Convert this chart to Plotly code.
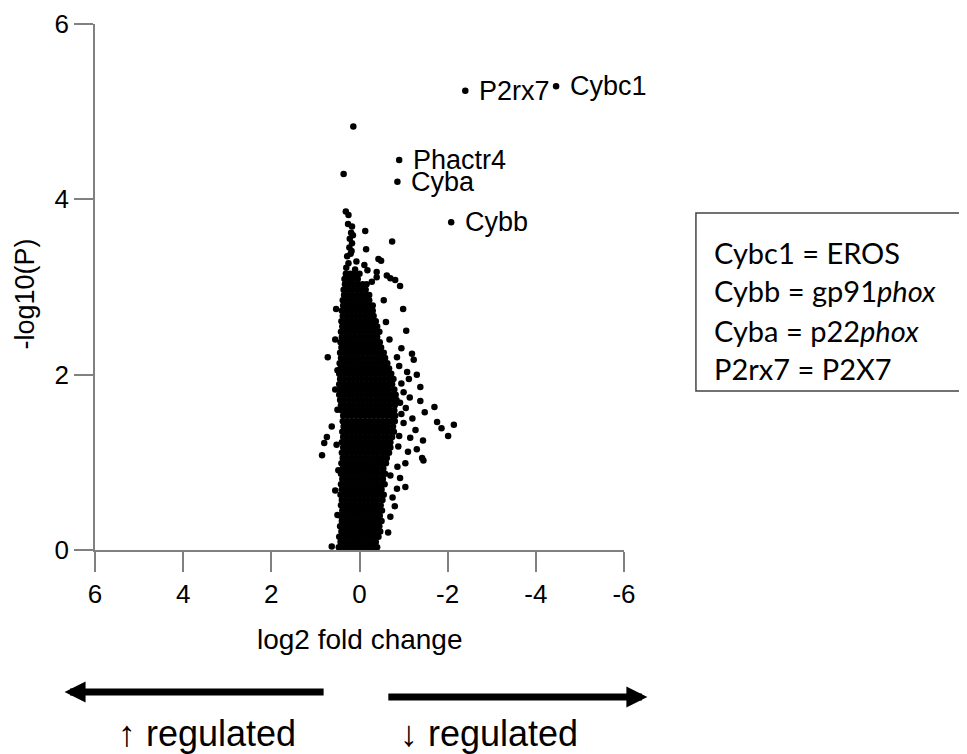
import plotly.graph_objects as go

# ---- dense core of the volcano cloud, read row by row: (-log10 P, [log2 FC values]) ----
core_rows = [
    (0.03, [0.47, 0.37, 0.27, 0.17, 0.07, -0.03, -0.13, -0.23, -0.33, -0.40]),
    (0.09, [0.43, 0.33, 0.23, 0.13, 0.03, -0.07, -0.17, -0.27, -0.37]),
    (0.15, [0.46, 0.36, 0.26, 0.16, 0.06, -0.04, -0.14, -0.24, -0.34, -0.43]),
    (0.21, [0.41, 0.31, 0.21, 0.11, 0.01, -0.09, -0.19, -0.29, -0.39, -0.47]),
    (0.27, [0.44, 0.34, 0.24, 0.14, 0.04, -0.06, -0.16, -0.26, -0.36, -0.45]),
    (0.33, [0.40, 0.30, 0.20, 0.10, 0.00, -0.10, -0.20, -0.30, -0.40, -0.50]),
    (0.39, [0.43, 0.33, 0.23, 0.13, 0.03, -0.07, -0.17, -0.27, -0.37, -0.46]),
    (0.45, [0.39, 0.29, 0.19, 0.09, -0.01, -0.11, -0.21, -0.31, -0.41, -0.51]),
    (0.51, [0.42, 0.32, 0.22, 0.12, 0.02, -0.08, -0.18, -0.28, -0.38, -0.48]),
    (0.57, [0.40, 0.30, 0.20, 0.10, 0.00, -0.10, -0.20, -0.30, -0.40, -0.52]),
    (0.63, [0.43, 0.33, 0.23, 0.13, 0.03, -0.07, -0.17, -0.27, -0.37, -0.47, -0.55]),
    (0.69, [0.40, 0.30, 0.20, 0.10, 0.00, -0.10, -0.20, -0.30, -0.40, -0.50]),
    (0.75, [0.42, 0.32, 0.22, 0.12, 0.02, -0.08, -0.18, -0.28, -0.38, -0.48, -0.57]),
    (0.81, [0.39, 0.29, 0.19, 0.09, -0.01, -0.11, -0.21, -0.31, -0.41, -0.53]),
    (0.87, [0.42, 0.32, 0.22, 0.12, 0.02, -0.08, -0.18, -0.28, -0.38, -0.48, -0.58]),
    (0.93, [0.38, 0.28, 0.18, 0.08, -0.02, -0.12, -0.22, -0.32, -0.42, -0.54]),
    (0.99, [0.41, 0.31, 0.21, 0.11, 0.01, -0.09, -0.19, -0.29, -0.39, -0.49, -0.60]),
    (1.05, [0.38, 0.28, 0.18, 0.08, -0.02, -0.12, -0.22, -0.32, -0.42, -0.52, -0.62]),
    (1.11, [0.40, 0.30, 0.20, 0.10, 0.00, -0.10, -0.20, -0.30, -0.40, -0.50, -0.60, -0.67]),
    (1.17, [0.37, 0.27, 0.17, 0.07, -0.03, -0.13, -0.23, -0.33, -0.43, -0.53, -0.63, -0.70]),
    (1.23, [0.40, 0.30, 0.20, 0.10, 0.00, -0.10, -0.20, -0.30, -0.40, -0.50, -0.60, -0.70]),
    (1.29, [0.37, 0.27, 0.17, 0.07, -0.03, -0.13, -0.23, -0.33, -0.43, -0.53, -0.63, -0.74]),
    (1.35, [0.39, 0.29, 0.19, 0.09, -0.01, -0.11, -0.21, -0.31, -0.41, -0.51, -0.61, -0.71, -0.78]),
    (1.41, [0.36, 0.26, 0.16, 0.06, -0.04, -0.14, -0.24, -0.34, -0.44, -0.54, -0.64, -0.76]),
    (1.47, [0.38, 0.28, 0.18, 0.08, -0.02, -0.12, -0.22, -0.32, -0.42, -0.52, -0.62, -0.72, -0.80]),
    (1.53, [0.37, 0.27, 0.17, 0.07, -0.03, -0.13, -0.23, -0.33, -0.43, -0.53, -0.63, -0.73, -0.81]),
    (1.59, [0.40, 0.30, 0.20, 0.10, 0.00, -0.10, -0.20, -0.30, -0.40, -0.50, -0.60, -0.70, -0.79]),
    (1.65, [0.42, 0.32, 0.22, 0.12, 0.02, -0.08, -0.18, -0.28, -0.38, -0.48, -0.58, -0.68, -0.80]),
    (1.71, [0.44, 0.34, 0.24, 0.14, 0.04, -0.06, -0.16, -0.26, -0.36, -0.46, -0.56, -0.66, -0.76, -0.84]),
    (1.77, [0.46, 0.36, 0.26, 0.16, 0.06, -0.04, -0.14, -0.24, -0.34, -0.44, -0.54, -0.64, -0.74, -0.82]),
    (1.83, [0.43, 0.33, 0.23, 0.13, 0.03, -0.07, -0.17, -0.27, -0.37, -0.47, -0.57, -0.67, -0.79]),
    (1.89, [0.46, 0.36, 0.26, 0.16, 0.06, -0.04, -0.14, -0.24, -0.34, -0.44, -0.54, -0.64, -0.74]),
    (1.95, [0.44, 0.34, 0.24, 0.14, 0.04, -0.06, -0.16, -0.26, -0.36, -0.46, -0.56, -0.66, -0.77]),
    (2.01, [0.46, 0.36, 0.26, 0.16, 0.06, -0.04, -0.14, -0.24, -0.34, -0.44, -0.54, -0.64, -0.72]),
    (2.07, [0.43, 0.33, 0.23, 0.13, 0.03, -0.07, -0.17, -0.27, -0.37, -0.47, -0.57, -0.67]),
    (2.13, [0.45, 0.35, 0.25, 0.15, 0.05, -0.05, -0.15, -0.25, -0.35, -0.45, -0.55, -0.63]),
    (2.19, [0.42, 0.32, 0.22, 0.12, 0.02, -0.08, -0.18, -0.28, -0.38, -0.48, -0.58]),
    (2.25, [0.44, 0.34, 0.24, 0.14, 0.04, -0.06, -0.16, -0.26, -0.36, -0.46, -0.55]),
    (2.31, [0.41, 0.31, 0.21, 0.11, 0.01, -0.09, -0.19, -0.29, -0.39, -0.49]),
    (2.37, [0.43, 0.33, 0.23, 0.13, 0.03, -0.07, -0.17, -0.27, -0.37, -0.46]),
    (2.43, [0.40, 0.30, 0.20, 0.10, 0.00, -0.10, -0.20, -0.30, -0.40]),
    (2.49, [0.42, 0.32, 0.22, 0.12, 0.02, -0.08, -0.18, -0.28, -0.38, -0.45]),
    (2.55, [0.39, 0.29, 0.19, 0.09, -0.01, -0.11, -0.21, -0.31, -0.40]),
    (2.61, [0.41, 0.31, 0.21, 0.11, 0.01, -0.09, -0.19, -0.29, -0.37]),
    (2.67, [0.38, 0.28, 0.18, 0.08, -0.02, -0.12, -0.22, -0.32]),
    (2.73, [0.40, 0.30, 0.20, 0.10, 0.00, -0.10, -0.20, -0.30]),
    (2.79, [0.37, 0.27, 0.17, 0.07, -0.03, -0.13, -0.23, -0.30]),
    (2.85, [0.38, 0.28, 0.18, 0.08, -0.02, -0.12, -0.22]),
    (2.91, [0.35, 0.25, 0.15, 0.05, -0.05, -0.15, -0.22]),
    (2.97, [0.36, 0.26, 0.16, 0.06, -0.04, -0.14]),
    (3.03, [0.33, 0.23, 0.13, 0.03, -0.07, -0.16]),
    (3.09, [0.34, 0.24, 0.14, 0.04]),
    (3.15, [0.31, 0.21, 0.11]),
]

# ---- scattered genes outside the dense core ----
scatter_fc = [
    0.31, 0.25, 0.26, 0.17, -0.13, -0.74, 0.15, 0.17, -0.15, 0.18, 0.20, -0.43, -0.49,
    0.25, 0.07, -0.11, -0.18, -0.39, -0.62, -0.70, -0.81, -0.92, 0.29, 0.21, -0.28, -0.39,
    0.28, 0.22, 0.10, 0.30, 0.00, 0.23, 0.19,
    -1.70, -2.14, -2.01, -1.76, -1.86, -1.48, -1.38, -1.14, -1.27, -1.44, -1.42, -1.45,
    -1.10, -1.04, -0.92, -1.04, -0.70, -0.99, -1.06, -0.85, -1.19, -1.23, -1.08, -1.30,
    -1.38, -0.95, -1.00, -0.90, -1.20, -1.05, -0.88, -0.95, -0.90, -0.86, -0.75, -0.80,
    -0.65, -0.70, -1.15, -1.30, -0.85, -0.92, -1.00, -0.60, -0.55, -0.68, -0.95, -1.12,
    0.55, 0.63, 0.74, 0.80, 0.85, 0.48, 0.55, 0.63, 0.72, 0.53, 0.50, 0.52, 0.50, 0.55, 0.50,
    0.14, 0.36,
]
scatter_p = [
    3.86, 3.82, 3.72, 3.69, 3.64, 3.52, 3.59, 3.50, 3.43, 3.41, 3.38, 3.32, 3.30,
    3.27, 3.29, 3.25, 3.19, 3.17, 3.13, 3.10, 3.08, 3.01, 3.12, 3.08, 3.06, 3.11,
    3.35, 3.55, 3.20, 3.22, 3.15, 3.45, 3.62,
    1.63, 1.43, 1.30, 1.46, 1.39, 1.57, 1.70, 1.74, 1.37, 1.25, 1.05, 1.02,
    1.12, 0.99, 0.82, 0.72, 0.38, 2.75, 2.50, 2.20, 2.24, 2.17, 2.03, 2.00,
    1.86, 1.55, 1.45, 1.30, 1.50, 1.62, 1.18, 1.90, 2.10, 0.95, 0.60, 0.50,
    0.20, 0.85, 1.28, 1.15, 0.70, 1.68, 1.80, 2.60, 2.85, 2.40, 2.30, 1.95,
    1.83, 1.41, 1.29, 1.22, 1.08, 0.91, 0.68, 0.04, 2.20, 2.75, 1.60, 1.20, 0.40, 2.40, 2.05,
    4.83, 4.29,
]

# ---- labelled genes ----
gene_names = ["P2rx7", "Cybc1", "Phactr4", "Cyba", "Cybb"]
gene_fc = [-2.40, -4.46, -0.90, -0.86, -2.08]
gene_p = [5.24, 5.29, 4.45, 4.20, 3.74]

legend_lines = ["Cybc1 = EROS", "Cybb = gp91<i>phox</i>", "Cyba = p22<i>phox</i>", "P2rx7 = P2X7"]

x_ticks = [6, 4, 2, 0, -2, -4, -6]
x_tick_text = ["6", "4", "2", "0", "-2", "-4", "-6"]
y_ticks = [0, 2, 4, 6]

xs, ys = [], []
for p, fcs in core_rows:
    for fc in fcs:
        xs.append(fc)
        ys.append(p)
xs += scatter_fc + gene_fc
ys += scatter_p + gene_p

FONT = "Liberation Sans, Arial, sans-serif"
AX = "#808080"

fig = go.Figure()
fig.add_trace(go.Scatter(
    x=xs, y=ys, mode="markers",
    marker=dict(color="black", size=6.5, line=dict(width=0)),
    cliponaxis=False, showlegend=False, hoverinfo="skip",
))

annotations = []
for name, fc, p in zip(gene_names, gene_fc, gene_p):
    annotations.append(dict(x=fc, y=p, xref="x", yref="y", text=name, showarrow=False,
                            xanchor="left", yanchor="middle", xshift=12,
                            font=dict(family=FONT, size=27, color="black")))

# axis titles
annotations.append(dict(x=0.5, y=-0.171, xref="paper", yref="paper", text="log2 fold change",
                        showarrow=False, xanchor="center", yanchor="middle",
                        font=dict(family=FONT, size=28, color="black")))
annotations.append(dict(x=-0.132, y=0.486, xref="paper", yref="paper", text="-log10(P)",
                        textangle=-90, showarrow=False, xanchor="center", yanchor="middle",
                        font=dict(family=FONT, size=27, color="black")))

# regulation arrows
annotations.append(dict(x=6.69, y=-0.270, xref="x", yref="y domain",
                        ax=0.78, ay=-0.270, axref="x", ayref="y domain",
                        text="", showarrow=True, arrowhead=2, arrowsize=0.6,
                        arrowwidth=7, arrowcolor="black"))
annotations.append(dict(x=-6.53, y=-0.2795, xref="x", yref="y domain",
                        ax=-0.62, ay=-0.2795, axref="x", ayref="y domain",
                        text="", showarrow=True, arrowhead=2, arrowsize=0.6,
                        arrowwidth=7, arrowcolor="black"))
annotations.append(dict(x=3.47, y=-0.348, xref="x", yref="paper", text="↑ regulated",
                        showarrow=False, xanchor="center", yanchor="middle",
                        font=dict(family=FONT, size=36, color="black")))
annotations.append(dict(x=-2.93, y=-0.348, xref="x", yref="paper", text="↓ regulated",
                        showarrow=False, xanchor="center", yanchor="middle",
                        font=dict(family=FONT, size=36, color="black")))

# legend box text
for line, yy in zip(legend_lines, [0.5647, 0.4924, 0.4182, 0.3460]):
    annotations.append(dict(x=1.1664, y=yy, xref="paper", yref="paper", text=line,
                            showarrow=False, xanchor="left", yanchor="middle",
                            font=dict(family="Lato, Carlito, sans-serif", size=29, color="black")))

# the page body adds an 8 px offset, so the figure margins are reduced by 8 px
fig.update_layout(
    width=967, height=754,
    margin=dict(l=87, r=351, t=16, b=212, autoexpand=False),
    plot_bgcolor="white", paper_bgcolor="white",
    showlegend=False,
    annotations=annotations,
    shapes=[dict(type="rect", xref="paper", yref="paper",
                 x0=1.136, x1=1.6465, y0=0.3023, y1=0.6407,
                 line=dict(color="#444444", width=1.5), fillcolor="rgba(0,0,0,0)")],
)
fig.update_xaxes(range=[6, -6], tickvals=x_ticks, ticktext=x_tick_text, automargin=False,
                 showgrid=False, zeroline=False, showline=True, linecolor=AX, linewidth=1.5,
                 ticks="outside", ticklen=20, tickwidth=1.5, tickcolor=AX,
                 tickfont=dict(family=FONT, size=26, color="black"))
fig.update_yaxes(range=[0, 6], tickvals=y_ticks, automargin=False,
                 showgrid=False, zeroline=False, showline=True, linecolor=AX, linewidth=1.5,
                 ticks="outside", ticklen=19, tickwidth=1.5, tickcolor=AX,
                 tickfont=dict(family=FONT, size=26, color="black"))

fig.write_html("out.html")
